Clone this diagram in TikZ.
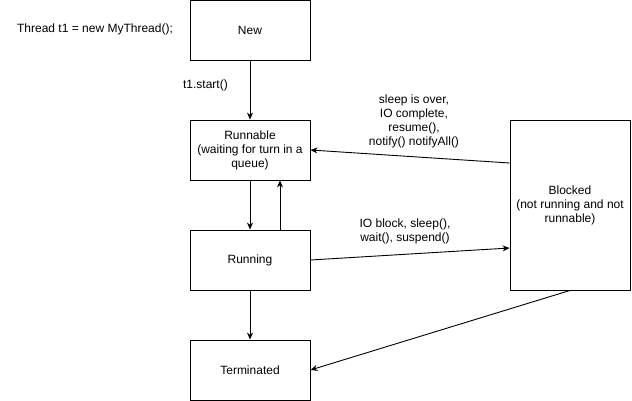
\documentclass[tikz,border=0pt]{standalone}
\usepackage{fontspec}
\setmainfont{Liberation Sans}
\usetikzlibrary{positioning,calc,arrows.meta}

\begin{document}
\begin{tikzpicture}[x=1pt,y=-1pt,>={Stealth[length=7pt,width=6pt]}]
\fontsize{12}{14}\selectfont

\tikzstyle{state}=[draw, text centered, align=center, inner sep=0pt, line width=0.9pt, minimum width=120pt, minimum height=60pt]
\tikzstyle{tr}=[->, line width=0.9pt]
\tikzstyle{lbl}=[text centered, align=center, inner sep=0pt]

\useasboundingbox (0,0) rectangle (632,401);

% left column
\node(new)[state] at (250,30) {New};
\node(rbl)[state] at (250,150) {Runnable\\(waiting for turn in a\\queue)};
\node(run)[state] at (250,260) {Running};
\node(term)[state] at (250,370) {Terminated};

% right
\node(blk)[state, minimum height=170pt] at (570,205) {Blocked\\(not running and not\\runnable)};

% texts
\node(decl)[lbl] at (95,29) {Thread t1 = new MyThread();};
\node(startl)[lbl, anchor=east] at (228,85) {t1.start()};
\node(wakel)[lbl] at (414,121) {sleep is over,\\IO complete,\\resume(),\\notify() notifyAll()};
\node(blockl)[lbl] at (405,231) {IO block, sleep(),\\wait(), suspend()};

% transitions
\draw[tr] (new.south) -- (rbl.north);
\draw[tr] (rbl.south) -- (run.north);
\draw[tr] ([xshift=30pt]run.north) -- ([xshift=30pt]rbl.south);
\draw[tr] (run.east) -- ([yshift=-43pt]blk.west);
\draw[tr] ([yshift=42pt]blk.west) -- (rbl.east);
\draw[tr] (run.south) -- (term.north);
\draw[tr] (blk.south) -- (term.east);

\end{tikzpicture}
\end{document}
